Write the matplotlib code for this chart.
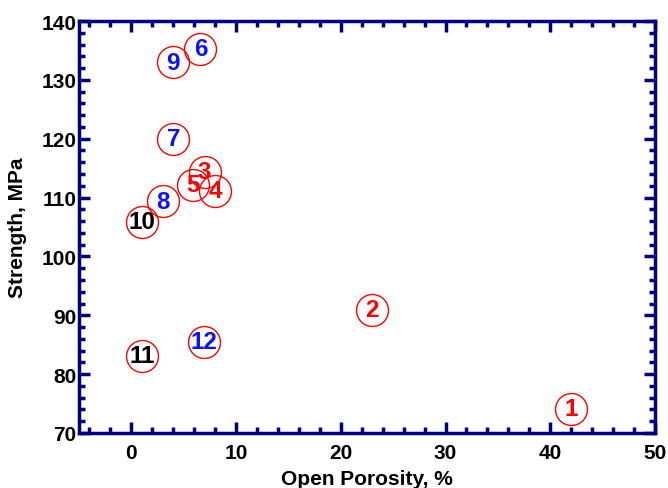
import matplotlib
matplotlib.use("Agg")
import matplotlib.pyplot as plt
from matplotlib.ticker import MultipleLocator

plt.rcParams['font.family'] = ['Liberation Sans', 'DejaVu Sans']

labels = ['1', '2', '3', '4', '5', '6', '7', '8', '9', '10', '11', '12']
porosity = [42.0, 23.0, 7.0, 8.0, 5.9, 6.6, 4.0, 3.0, 4.0, 1.0, 1.0, 6.9]
strength = [74.1, 90.9, 114.4, 111.2, 112.2, 135.3, 120.0, 109.4, 133.0, 105.9, 83.1, 85.5]
label_colors = ['#ff0000'] * 5 + ['#1010ff'] * 4 + ['#000000', '#000000', '#1010ff']

navy = '#000080'

fig = plt.figure(figsize=(6.68, 4.89), dpi=100)
ax = fig.add_axes([0.1183, 0.1125, 0.8622, 0.8425])

ax.plot(porosity, strength, linestyle='none', marker='o', markersize=23,
        markerfacecolor='none', markeredgecolor='#ff0000', markeredgewidth=1.0,
        zorder=2)
for lab, x, y, c in zip(labels, porosity, strength, label_colors):
    ax.text(x, y, lab, color=c, fontsize=17.5, fontweight='bold',
            ha='center', va='center', zorder=3)

ax.set_xlim(-5, 50)
ax.set_ylim(70, 140)
ax.xaxis.set_major_locator(MultipleLocator(10))
ax.xaxis.set_minor_locator(MultipleLocator(2))
ax.yaxis.set_major_locator(MultipleLocator(10))
ax.yaxis.set_minor_locator(MultipleLocator(2))

for s in ax.spines.values():
    s.set_color(navy)
    s.set_linewidth(2.5)

ax.tick_params(which='both', direction='in', top=True, right=True, color=navy)
ax.tick_params(which='major', length=8, width=2.5, labelsize=15)
ax.tick_params(which='minor', length=4, width=2.5)
ax.tick_params(axis='x', which='major', pad=7)
ax.tick_params(axis='y', which='major', pad=2)
for t in ax.get_xticklabels() + ax.get_yticklabels():
    t.set_fontweight('bold')

ax.set_xlabel('Open Porosity, %', fontsize=15, fontweight='bold', labelpad=5)
ax.set_ylabel('Strength, MPa', fontsize=15, fontweight='bold', labelpad=10)

fig.savefig('out.png', dpi=100)
